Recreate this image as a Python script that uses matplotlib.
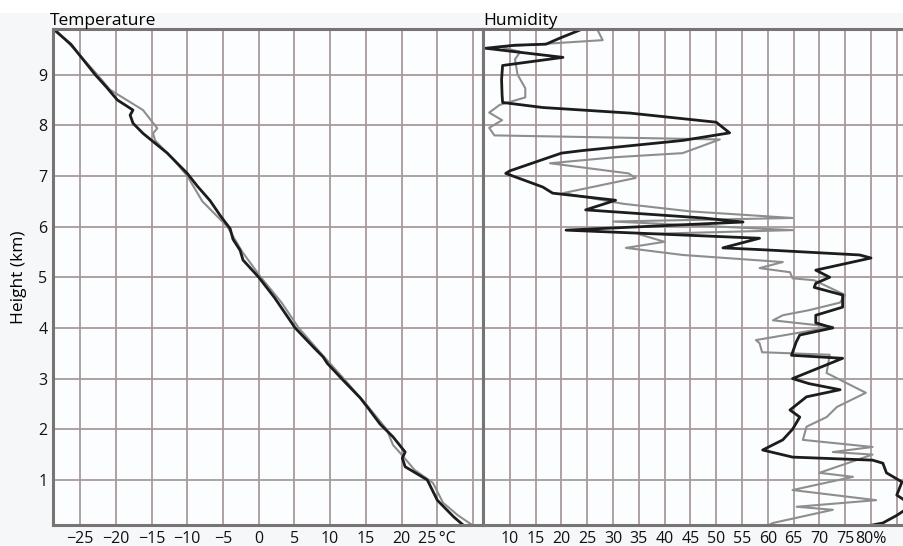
import matplotlib
matplotlib.use('Agg')
import matplotlib.pyplot as plt
from matplotlib.patches import Rectangle

plt.rcParams['font.family'] = ['Open Sans', 'DejaVu Sans']

# temperature soundings (height km, deg C)
temp_black_km = [9.88, 9.6, 9.3, 9.0, 8.75, 8.5, 8.3, 8.2, 8.04, 7.84, 7.45, 7.05, 6.8,
                 6.51, 6.2, 5.96, 5.75, 5.53, 5.34, 5.0, 4.6, 4.0, 3.6, 3.43, 3.3, 2.97,
                 2.62, 2.44, 2.1, 1.85, 1.55, 1.43, 1.26, 1.0, 0.8, 0.6, 0.27, 0.1]
temp_black = [-28.6, -26.3, -24.6, -22.9, -21.3, -19.8, -17.6, -18.0, -17.6, -16.2, -12.8,
              -10.0, -8.6, -6.8, -5.3, -4.0, -3.6, -2.6, -2.2, 0.0, 2.2, 5.1, 7.8, 9.0, 9.6,
              11.8, 14.2, 15.2, 17.0, 18.8, 20.5, 20.1, 20.5, 23.6, 24.3, 25.0, 27.3, 28.7]

temp_gray_km = [9.88, 9.5, 9.0, 8.7, 8.3, 7.94, 7.84, 7.7, 7.3, 7.0, 6.5, 6.2, 6.0, 5.5,
                5.0, 4.5, 4.0, 3.5, 3.0, 2.5, 2.0, 1.69, 1.5, 1.2, 0.94, 0.55, 0.3, 0.1]
temp_gray = [-28.4, -25.8, -22.6, -20.8, -16.2, -14.2, -14.8, -14.5, -11.8, -10.0, -7.9,
             -5.8, -4.4, -2.3, 0.3, 3.2, 5.6, 8.7, 11.9, 15.0, 17.9, 18.8, 20.0, 21.8,
             24.4, 25.8, 27.9, 30.0]

# humidity soundings (height km, %)
hum_black_km = [9.88, 9.72, 9.6, 9.58, 9.52, 9.34, 9.18, 8.9, 8.6, 8.45, 8.35, 8.24, 8.06,
                7.85, 7.7, 7.5, 7.45, 7.1, 7.05, 6.78, 6.66, 6.52, 6.33, 6.17, 6.09, 5.93,
                5.77, 5.58, 5.54, 5.44, 5.38, 5.14, 5.0, 4.88, 4.8, 4.65, 4.41, 4.25, 4.1,
                4.0, 3.86, 3.72, 3.46, 3.4, 3.0, 2.9, 2.78, 2.64, 2.38, 2.24, 2.0, 1.79,
                1.59, 1.45, 1.39, 1.33, 1.14, 0.96, 0.7, 0.5, 0.3, 0.15, 0.11]
hum_black = [23.6, 19.7, 17.0, 11.0, 5.3, 20.3, 8.6, 8.4, 8.5, 8.6, 16.4, 33.3, 50.0,
             52.6, 43.5, 24.0, 20.0, 10.0, 9.2, 16.4, 18.3, 30.5, 24.7, 47.4, 55.2, 20.9,
             58.4, 51.3, 59.6, 77.8, 80.0, 69.3, 72.0, 69.3, 69.0, 74.5, 74.5, 69.3, 69.3,
             72.6, 66.2, 65.5, 64.6, 74.5, 64.8, 68.0, 74.0, 67.5, 64.3, 66.2, 64.8, 62.9,
             59.0, 64.8, 80.3, 82.3, 83.0, 86.0, 85.0, 88.0, 85.0, 82.3, 80.3]

hum_gray_km = [9.88, 9.68, 9.55, 9.45, 9.3, 9.0, 8.73, 8.55, 8.4, 8.25, 8.1, 7.95, 7.8,
               7.72, 7.45, 7.37, 7.25, 7.05, 6.96, 6.66, 6.45, 6.3, 6.17, 6.1, 5.93, 5.85,
               5.7, 5.58, 5.44, 5.3, 5.18, 5.1, 4.98, 4.94, 4.65, 4.5, 4.35, 4.25, 4.15,
               4.02, 3.76, 3.7, 3.52, 3.47, 3.11, 2.72, 2.44, 2.24, 2.05, 1.79, 1.65, 1.55,
               1.5, 1.14, 1.06, 0.8, 0.6, 0.47, 0.41, 0.15, 0.1]
hum_gray = [27.0, 28.0, 8.0, 12.0, 11.0, 11.5, 13.0, 13.0, 8.0, 6.0, 8.5, 6.0, 7.0, 50.7,
            43.5, 30.5, 17.8, 33.0, 34.4, 20.3, 32.0, 45.0, 64.8, 30.0, 64.8, 35.0, 40.0,
            32.5, 43.5, 62.9, 58.4, 64.3, 64.8, 69.0, 75.0, 74.0, 68.0, 62.9, 61.0, 72.6,
            57.7, 58.4, 58.9, 72.0, 71.4, 79.0, 73.4, 71.4, 67.5, 66.8, 80.3, 72.6, 80.3,
            70.0, 76.5, 64.8, 81.0, 65.6, 72.6, 61.0, 60.0]

temp_ticks = [-25, -20, -15, -10, -5, 0, 5, 10, 15, 20, 25]
temp_labels = ['\u221225', '\u221220', '\u221215', '\u221210', '\u22125', '0', '5', '10',
               '15', '20', '25\u2009°C']
hum_ticks = [10, 15, 20, 25, 30, 35, 40, 45, 50, 55, 60, 65, 70, 75, 80]
hum_labels = ['10', '15', '20', '25', '30', '35', '40', '45', '50', '55', '60', '65', '70',
              '75', '80%']
height_ticks = [1, 2, 3, 4, 5, 6, 7, 8, 9]

grid_col = '#a89a9a'
frame_col = '#787474'

fig = plt.figure(figsize=(9.04, 5.46), dpi=100, facecolor='#f6f7f9')
fig.patches.append(Rectangle((0, 1 - 13 / 546), 1, 13 / 546, transform=fig.transFigure,
                             facecolor='white', edgecolor='none', zorder=0))

ax_t = fig.add_axes([53 / 904, 21 / 546, 430 / 904, 496 / 546])
ax_h = fig.add_axes([483 / 904, 21 / 546, 421 / 904, 496 / 546])

for ax in (ax_t, ax_h):
    ax.set_facecolor('#fcfdfe')
    ax.set_ylim(0.11, 9.9)
    ax.grid(True, color=grid_col, linewidth=1.3)
    ax.set_axisbelow(True)
    ax.tick_params(length=0, labelsize=11.5, pad=4, colors='#111111')
    for s in ax.spines.values():
        s.set_color(frame_col)
        s.set_linewidth(2.2)

# temperature panel
ax_t.plot(temp_gray, temp_gray_km, color='#8e8e8e', linewidth=1.5)
ax_t.plot(temp_black, temp_black_km, color='#1c1c1c', linewidth=2)
ax_t.set_xlim(-28.8, 31.4)
ax_t.set_xticks(temp_ticks + [30])
ax_t.set_xticklabels(temp_labels + [''])
ax_t.set_yticks(height_ticks)
ax_t.set_ylabel('Height (km)', fontsize=12.5, labelpad=8)
ax_t.set_title('Temperature', loc='left', fontsize=12.5, pad=2, x=-0.007)

# humidity panel
ax_h.plot(hum_gray, hum_gray_km, color='#8e8e8e', linewidth=1.5)
ax_h.plot(hum_black, hum_black_km, color='#1c1c1c', linewidth=2)
ax_h.set_xlim(4.8, 86.4)
ax_h.set_xticks(hum_ticks + [85])
ax_h.set_xticklabels(hum_labels + [''])
ax_h.set_yticks(height_ticks)
ax_h.set_yticklabels([])
ax_h.spines['right'].set_visible(False)
ax_h.set_title('Humidity', loc='left', fontsize=12.5, pad=2)

fig.savefig('out.png', dpi=100, facecolor=fig.get_facecolor())
